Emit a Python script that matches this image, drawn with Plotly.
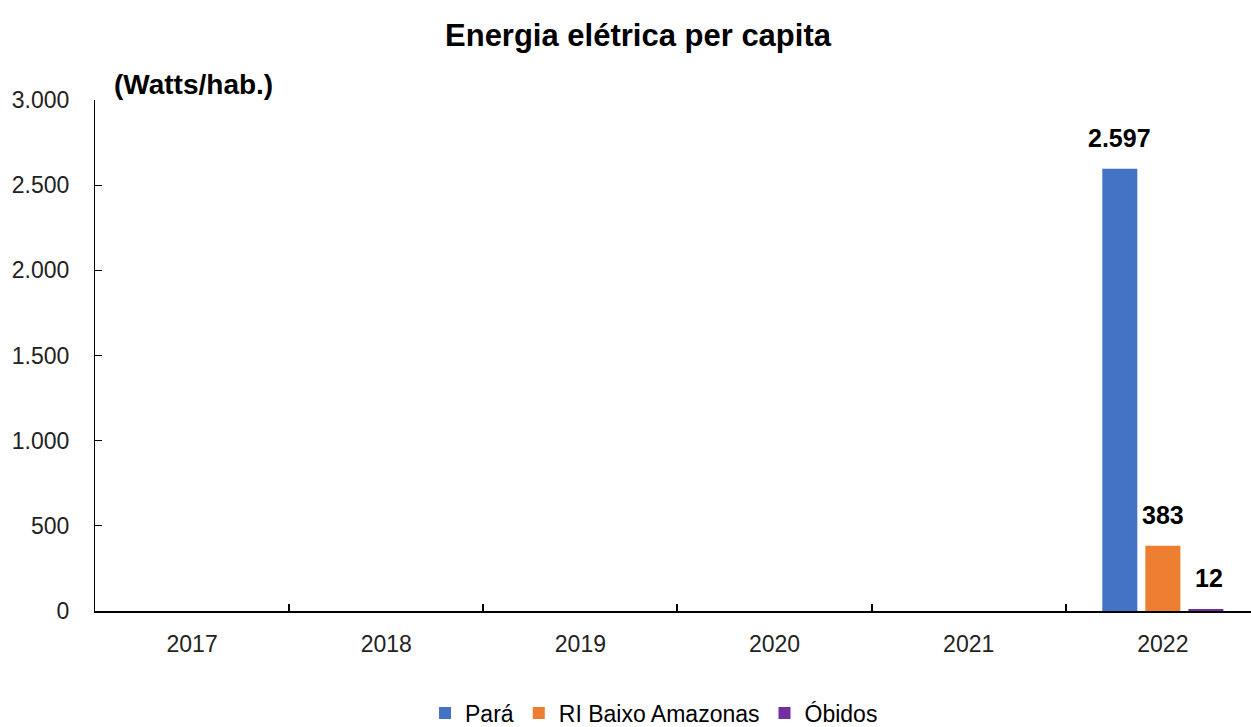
import plotly.graph_objects as go

categories = ["2017", "2018", "2019", "2020", "2021", "2022"]
para = [None, None, None, None, None, 2597]
ri_baixo = [None, None, None, None, None, 383]
obidos = [None, None, None, None, None, 12]
series_names = ["Pará", "RI Baixo Amazonas", "Óbidos"]
colors = ["#4472C4", "#ED7D31", "#7030A0"]
y_ticks = [0, 500, 1000, 1500, 2000, 2500, 3000]

FONT = "Liberation Sans Narrow, Arial Narrow, Liberation Sans, Arial, sans-serif"

fig = go.Figure()
for name, vals, col in zip(series_names, [para, ri_baixo, obidos], colors):
    fig.add_trace(go.Bar(
        x=categories, y=vals, name=name, marker_color=col,
        marker_line_width=0,
    ))

# data labels
offsets = [-43, 0, 46]
for vals, dx in zip([para, ri_baixo, obidos], offsets):
    for i, v in enumerate(vals):
        if v is None:
            continue
        fig.add_annotation(
            x=i, y=v, xref="x", yref="y", text=f"{v:,.0f}".replace(",", "."),
            showarrow=False, xshift=dx, yshift=15, yanchor="bottom",
            font=dict(family=FONT, size=25, color="#000000"),
        )
fig.update_annotations(font_weight="bold")

fig.add_annotation(
    x=(112 - 95) / (1251 - 95), y=1 + 15 / 511, xref="paper", yref="paper", text="<b>(Watts/hab.)</b>",
    showarrow=False, xanchor="left", yanchor="middle",
    font=dict(family=FONT, size=28, color="#000000"),
)

fig.update_layout(
    width=1251, height=727,
    paper_bgcolor="white", plot_bgcolor="white",
    margin=dict(l=95, r=0, t=100, b=116),
    separators=",.",
    barmode="group", bargap=0.335, bargroupgap=0.186,
    title=dict(text="<b>Energia elétrica per capita</b>", x=638 / 1251, xanchor="center",
               y=1 - 35 / 727, yanchor="middle",
               font=dict(family=FONT, size=31, color="#000000")),
    font=dict(family=FONT, size=23, color="#000000"),
    showlegend=True,
    legend=dict(orientation="h", xref="container", yref="container", x=654 / 1251, xanchor="center",
                y=1 - 713 / 727, yanchor="middle", font=dict(family=FONT, size=23, color="#000000"),
                itemwidth=30, traceorder="normal"),
    xaxis=dict(
        type="category", range=[-0.5, 5.454],
        showline=True, linecolor="#000000", linewidth=2,
        ticks="inside", tickson="boundaries", ticklen=7, tickcolor="#000000", tickwidth=2,
        ticklabelstandoff=11, showgrid=False, zeroline=False,
        tickfont=dict(family=FONT, size=23, color="#222222"),
    ),
    yaxis=dict(
        range=[0, 3000], tickvals=y_ticks, tickformat=",d",
        showline=True, linecolor="#000000", linewidth=1,
        ticks="inside", ticklen=7, tickcolor="#000000", tickwidth=1,
        ticklabelstandoff=20, showgrid=False, zeroline=False,
        tickfont=dict(family=FONT, size=23, color="#222222"),
    ),
)

fig.write_html("out.html")
